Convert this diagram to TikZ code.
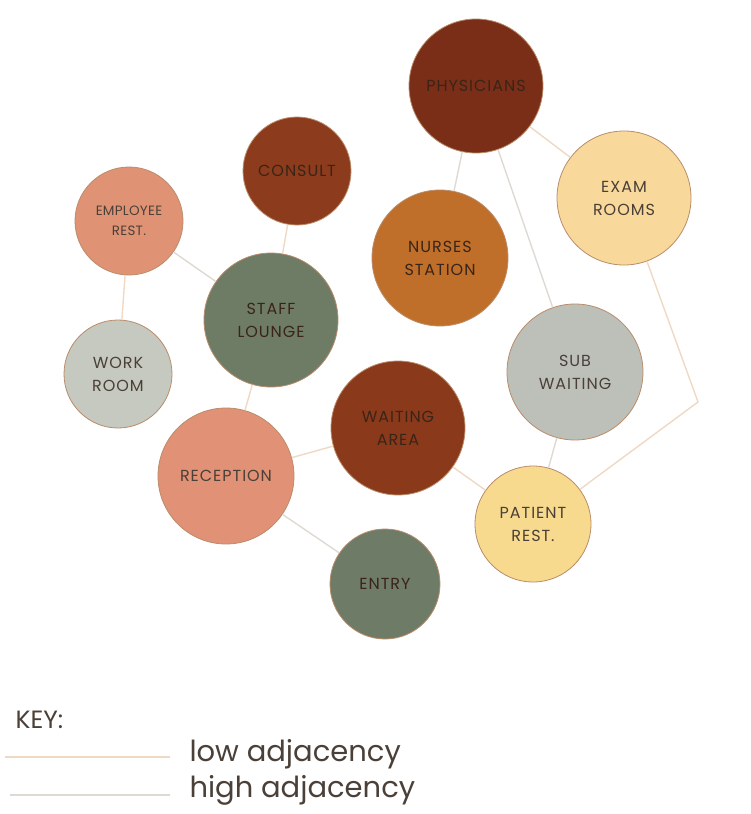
\documentclass[tikz,border=0pt]{standalone}
\usepackage{fontspec}
\setmainfont{Poppins}
\definecolor{cPhys}{HTML}{7B2E17}
\definecolor{cConsult}{HTML}{8C3B1C}
\definecolor{cEmp}{HTML}{DF9374}
\definecolor{cNurse}{HTML}{C06F2A}
\definecolor{cStaff}{HTML}{6E7C66}
\definecolor{cWork}{HTML}{C5C9BF}
\definecolor{cWait}{HTML}{BDC0B8}
\definecolor{cWArea}{HTML}{8A3A1B}
\definecolor{cRecep}{HTML}{E09176}
\definecolor{cPRest}{HTML}{F7DA8D}
\definecolor{cEntry}{HTML}{6E7B67}
\definecolor{cExam}{HTML}{F8D99B}
\definecolor{cBorder}{HTML}{B98C6A}
\definecolor{cLow}{HTML}{EFD8C4}
\definecolor{cHigh}{HTML}{DEDAD3}
\definecolor{cText}{HTML}{4A4038}
\definecolor{cDarkText}{HTML}{3A2418}
\tikzset{
  room/.style={circle, draw=cBorder, line width=0.8pt, inner sep=0pt, align=center,
    text=cText, font=\fontsize{16}{23}\selectfont\addfontfeature{LetterSpace=6}},
  lowadj/.style={draw=cLow, line width=1.4pt},
  highadj/.style={draw=cHigh, line width=1.4pt},
  keytext/.style={anchor=west, text=cText, font=\fontsize{29}{32}\selectfont}
}
\begin{document}
\begin{tikzpicture}[x=1pt,y=-1pt]
\useasboundingbox (0,0) rectangle (751,814);
\coordinate (bend) at (698,402);
\node[room, minimum size=134pt, fill=cPhys, text=cDarkText] (phys) at (476,86) {PHYSICIANS};
\node[room, minimum size=134pt, fill=cExam] (exam) at (624,198) {EXAM\\ROOMS};
\node[room, minimum size=108pt, fill=cConsult, text=cDarkText] (consult) at (297,171) {CONSULT};
\node[room, minimum size=108pt, fill=cEmp, font=\fontsize{13.5}{20}\selectfont\addfontfeature{LetterSpace=2}] (emp) at (129,221) {EMPLOYEE\\REST.};
\node[room, minimum size=136pt, fill=cNurse, text=cDarkText] (nurse) at (440,258) {NURSES\\STATION};
\node[room, minimum size=134pt, fill=cStaff, text=cDarkText] (staff) at (271,320) {STAFF\\LOUNGE};
\node[room, minimum size=108pt, fill=cWork] (work) at (118,374) {WORK\\ROOM};
\node[room, minimum size=136pt, fill=cWait] (wait) at (575,372) {SUB\\WAITING};
\node[room, minimum size=134pt, fill=cWArea, text=cDarkText] (warea) at (398,428) {WAITING\\AREA};
\node[room, minimum size=136pt, fill=cRecep] (recep) at (226,476) {RECEPTION};
\node[room, minimum size=116pt, fill=cPRest] (prest) at (533,524) {PATIENT\\REST.};
\node[room, minimum size=110pt, fill=cEntry, text=cDarkText] (entry) at (385,584) {ENTRY};
% connectors
\draw[lowadj] (phys) -- (exam);
\draw[highadj] (phys) -- (nurse);
\draw[highadj] (phys) -- (wait);
\draw[lowadj] (exam) -- (bend) -- (prest);
\draw[highadj] (wait) -- (prest);
\draw[lowadj] (warea) -- (prest);
\draw[lowadj] (warea) -- (recep);
\draw[highadj] (recep) -- (entry);
\draw[lowadj] (recep) -- (staff);
\draw[lowadj] (staff) -- (consult);
\draw[highadj] (staff) -- (emp);
\draw[lowadj] (emp) -- (work);
% key
\node[keytext, font=\fontsize{25}{28}\selectfont] (key) at (12,720) {KEY:};
\node[keytext] (low) at (186,754) {low adjacency};
\node[keytext] (high) at (186,790) {high adjacency};
\coordinate (lowA) at (5,757);
\coordinate (lowB) at (170,757);
\coordinate (highA) at (10,795);
\coordinate (highB) at (170,795);
\draw[lowadj] (lowA) -- (lowB);
\draw[highadj] (highA) -- (highB);
\end{tikzpicture}
\end{document}
